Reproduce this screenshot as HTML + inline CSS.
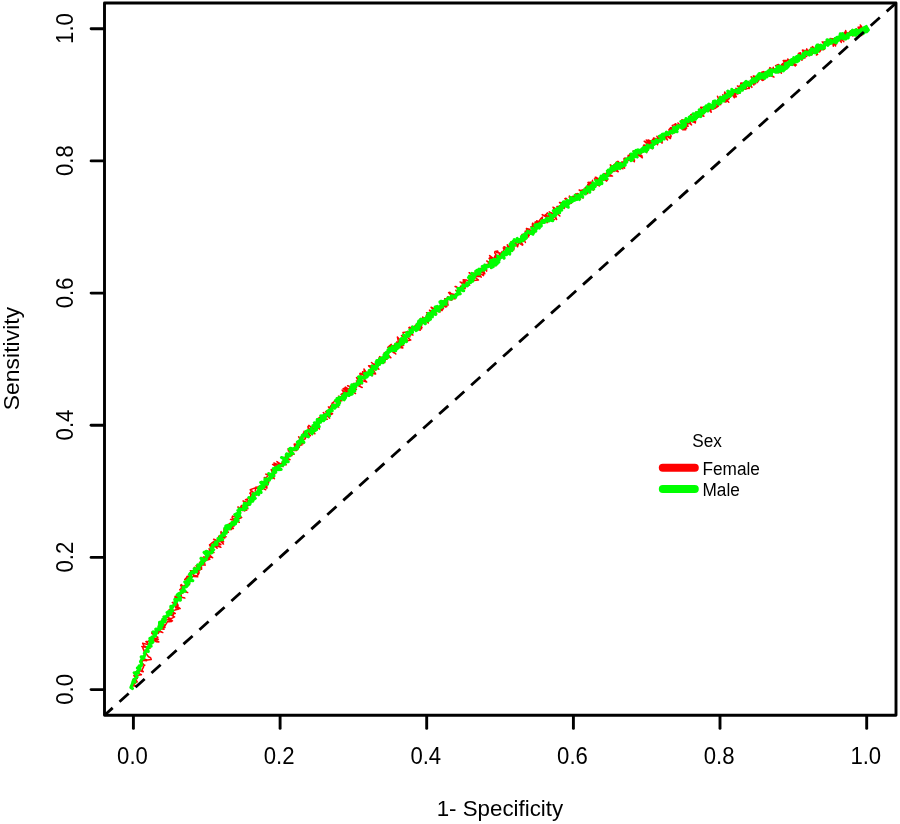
<!DOCTYPE html>
<html lang="en">
<head>
<meta charset="utf-8">
<title>ROC curve by Sex</title>
<style>
html,body{margin:0;padding:0;background:#fff;}
body{width:900px;height:824px;overflow:hidden;}
svg{display:block;}
text{font-family:"Liberation Sans",Arial,sans-serif;fill:#000;}
.ax{font-size:23.2px;}
.lg{font-size:18px;}
</style>
</head>
<body>
<svg width="900" height="824" viewBox="0 0 900 824">
<rect x="0" y="0" width="900" height="824" fill="#ffffff"/>
<path d="M131.0,685.7 L136.4,685.9 L132.6,684.5 L137.2,681.8 L135.0,678.7 L133.0,679.7 L135.0,678.6 L137.3,678.4 L133.8,675.7 L141.4,674.7 L135.8,671.8 L141.4,670.8 L141.9,671.5 L143.3,671.7 L141.9,670.1 L143.6,666.9 L143.2,666.3 L144.8,665.2 L143.6,664.6 L141.4,662.2 L143.1,660.3 L146.6,660.7 L142.5,658.7 L147.6,659.9 L151.3,659.5 L150.6,657.7 L148.5,656.8 L145.8,653.1 L145.1,650.3 L145.9,650.0 L144.4,651.9 L142.3,646.6 L141.8,646.5 L150.1,648.2 L144.0,646.0 L142.7,643.3 L149.7,644.9 L149.9,644.6 L148.3,643.5 L145.9,641.6 L150.9,641.6 L150.7,638.8 L156.0,641.7 L158.9,642.0 L152.6,638.0 L158.4,639.2 L155.4,639.4 L157.9,637.3 L151.8,633.3 L152.0,632.0 L154.3,634.6 L155.1,631.2 L158.3,633.4 L159.0,631.9 L156.1,630.4 L162.8,632.6 L157.1,629.1 L159.4,628.8 L164.1,629.2 L158.2,626.0 L165.0,627.4 L163.0,625.7 L159.3,624.7 L162.7,624.3 L160.5,621.3 L165.1,625.7 L167.5,621.6 L169.1,621.7 L171.5,621.6 L172.1,620.8 L164.6,619.0 L172.5,620.8 L167.5,617.4 L171.2,618.7 L174.6,616.9 L171.6,615.4 L168.4,613.9 L173.3,614.8 L172.1,613.9 L175.3,613.5 L169.0,609.8 L174.0,610.2 L175.0,610.0 L178.8,609.0 L175.1,605.9 L175.8,608.0 L180.2,608.6 L172.3,602.4 L178.1,605.3 L176.2,601.6 L175.0,599.4 L176.8,600.8 L175.0,599.4 L175.1,596.3 L180.9,600.0 L177.9,598.8 L176.7,595.9 L184.9,598.1 L181.5,597.2 L181.2,595.3 L180.0,594.6 L183.0,592.9 L184.0,590.5 L187.7,592.6 L179.7,589.8 L181.4,588.2 L181.3,586.4 L180.6,585.4 L181.3,584.5 L184.4,587.9 L185.1,585.0 L184.1,585.7 L189.5,584.6 L185.1,581.7 L189.7,580.8 L184.7,579.6 L186.4,577.8 L190.3,581.0 L190.9,579.1 L187.1,577.9 L186.7,577.1 L187.1,576.3 L191.1,576.6 L193.9,576.4 L197.7,576.8 L197.3,576.1 L193.7,575.3 L190.4,570.7 L197.0,570.8 L199.2,572.7 L198.1,574.9 L194.3,567.3 L198.8,571.4 L200.1,569.8 L196.0,565.8 L201.6,569.3 L201.5,566.6 L199.6,568.0 L198.9,565.3 L203.4,564.7 L205.3,565.1 L203.7,564.8 L199.5,562.4 L202.2,561.0 L204.8,563.2 L202.6,560.2 L203.4,560.0 L201.1,557.4 L206.3,560.4 L209.8,559.4 L203.4,556.9 L210.0,557.7 L207.8,557.3 L209.6,556.4 L212.7,557.7 L209.6,555.1 L210.1,552.9 L214.0,552.5 L210.5,552.2 L209.7,550.3 L209.1,548.8 L212.7,550.9 L209.5,544.8 L211.0,546.1 L213.0,546.5 L216.2,546.9 L210.0,544.5 L212.6,542.4 L216.2,546.1 L217.1,548.3 L213.7,545.0 L220.9,547.3 L213.6,541.5 L220.9,544.7 L213.6,539.2 L222.4,542.4 L223.5,544.1 L218.5,539.1 L223.6,541.8 L222.1,540.4 L218.6,537.0 L218.7,536.3 L224.8,537.9 L222.4,536.6 L226.1,536.7 L221.3,534.8 L221.1,531.6 L220.9,532.8 L228.4,532.2 L224.7,529.1 L223.8,531.3 L224.7,531.1 L223.9,529.1 L227.9,528.4 L225.5,529.3 L231.7,529.5 L229.5,527.1 L225.6,526.1 L233.4,528.5 L230.1,524.5 L234.2,526.0 L230.4,526.4 L229.4,523.5 L234.9,523.8 L235.2,524.3 L231.9,522.2 L235.0,520.4 L230.5,519.4 L238.3,521.5 L239.3,522.3 L232.0,517.9 L232.5,516.1 L237.7,518.0 L236.4,518.4 L237.3,519.2 L241.7,517.6 L239.4,515.8 L239.0,515.3 L238.0,512.1 L239.1,514.1 L239.9,514.1 L238.7,512.3 L239.4,510.1 L242.3,510.5 L244.6,509.9 L237.8,507.0 L244.5,510.9 L246.8,510.1 L240.8,506.9 L241.5,505.4 L242.3,505.7 L246.4,506.9 L247.9,508.7 L245.4,505.4 L248.4,505.6 L243.0,500.9 L244.5,501.5 L247.7,502.6 L247.4,499.0 L245.5,499.8 L252.3,501.2 L250.8,498.4 L250.1,499.2 L250.0,497.3 L248.6,497.9 L254.0,498.8 L250.5,498.3 L250.9,493.9 L254.4,496.1 L249.8,493.3 L251.9,491.1 L256.3,495.1 L251.7,490.8 L251.9,491.9 L250.2,489.8 L255.8,487.6 L255.2,491.1 L256.0,487.0 L256.2,487.8 L259.2,489.6 L255.8,487.6 L258.6,486.6 L259.4,486.8 L265.8,489.8 L259.5,486.3 L260.8,485.9 L264.6,486.7 L266.9,488.2 L266.8,486.3 L266.4,486.5 L265.2,483.9 L261.7,481.5 L268.3,483.5 L268.6,480.8 L268.6,483.1 L267.6,479.0 L268.7,482.5 L264.3,477.5 L265.2,478.0 L266.9,477.0 L268.1,474.9 L273.3,477.4 L274.4,478.7 L265.8,474.1 L274.0,476.7 L274.1,476.5 L274.7,473.5 L272.5,472.3 L273.4,474.6 L272.6,472.0 L275.9,471.7 L272.6,473.1 L271.2,469.8 L275.3,470.7 L274.8,469.8 L277.3,468.3 L275.9,466.7 L279.4,469.5 L272.6,464.5 L280.4,465.7 L277.9,466.6 L273.9,462.9 L283.0,466.6 L279.2,463.9 L276.9,461.6 L282.5,465.1 L281.7,463.0 L286.3,464.8 L282.6,461.3 L285.2,461.4 L285.7,462.5 L285.0,457.6 L286.8,458.1 L286.8,458.0 L285.1,457.4 L290.0,459.7 L285.2,456.8 L286.3,456.5 L286.8,454.3 L286.3,453.7 L286.6,453.5 L291.9,455.7 L290.7,455.7 L289.4,452.8 L289.3,453.8 L294.1,454.3 L288.4,450.9 L288.1,448.7 L290.7,448.9 L292.4,448.5 L293.1,450.5 L296.8,450.6 L294.7,449.6 L294.4,447.3 L295.5,447.1 L294.3,444.8 L296.6,448.7 L299.4,447.3 L294.2,444.1 L301.4,444.8 L299.6,445.8 L296.9,442.0 L299.6,442.3 L301.9,444.9 L300.3,441.2 L301.7,438.0 L303.1,443.7 L302.9,443.6 L298.6,436.8 L303.0,441.2 L302.1,439.3 L304.8,439.3 L305.8,437.4 L304.1,436.5 L304.9,436.9 L305.9,436.5 L303.2,433.2 L304.5,432.1 L304.0,431.3 L310.4,435.8 L308.2,433.0 L312.0,431.7 L312.4,434.7 L309.5,429.6 L308.1,428.6 L311.4,429.3 L314.9,433.8 L312.2,432.0 L307.8,427.0 L308.9,425.3 L309.0,425.6 L315.8,429.8 L314.7,426.8 L316.5,428.5 L317.3,426.8 L319.5,429.0 L317.4,425.2 L315.9,422.4 L317.7,423.5 L318.9,425.4 L319.3,425.3 L317.0,420.4 L316.7,420.4 L319.0,423.1 L317.4,419.3 L319.7,417.2 L321.9,418.0 L322.0,418.8 L322.0,415.8 L322.2,419.2 L323.4,419.1 L327.4,419.2 L325.6,419.2 L323.7,415.1 L325.2,414.7 L323.3,412.6 L329.7,418.1 L327.2,414.4 L327.0,410.7 L325.6,411.8 L331.1,414.6 L332.4,413.8 L332.6,413.8 L329.7,413.4 L329.1,410.2 L331.7,412.0 L328.4,406.9 L331.3,409.7 L329.7,407.8 L330.9,405.6 L333.7,405.6 L335.2,407.5 L331.6,404.5 L331.9,405.0 L336.5,404.0 L338.7,407.1 L331.9,403.3 L335.7,400.7 L336.3,401.6 L337.9,404.7 L336.0,400.8 L339.2,402.6 L339.5,402.4 L340.2,401.1 L341.8,400.8 L340.5,400.7 L336.9,398.0 L343.0,398.8 L340.6,397.5 L338.5,396.2 L344.5,398.1 L342.1,395.3 L342.4,394.1 L343.6,392.8 L341.0,394.4 L347.1,395.2 L346.3,395.8 L344.7,393.9 L342.1,390.1 L347.1,393.8 L350.5,395.0 L343.2,388.6 L346.5,390.2 L344.4,388.0 L348.6,391.4 L345.4,387.1 L355.5,393.5 L349.5,388.4 L352.4,390.9 L349.9,387.3 L351.6,387.2 L347.6,385.7 L356.4,389.2 L351.6,385.0 L353.5,385.2 L353.0,384.4 L355.1,383.4 L353.2,384.3 L353.3,383.4 L362.2,387.5 L360.7,386.9 L356.4,380.9 L362.2,383.8 L356.5,377.5 L359.0,382.5 L360.3,384.1 L358.3,379.1 L360.2,377.3 L360.9,382.2 L360.6,380.1 L366.7,382.0 L361.1,376.0 L359.8,373.9 L360.2,373.2 L365.0,374.3 L360.8,373.5 L366.9,377.1 L362.6,371.7 L363.0,374.7 L364.5,373.3 L364.0,368.9 L366.7,373.1 L372.5,375.7 L368.8,370.2 L370.8,370.1 L370.9,370.6 L372.0,372.9 L370.6,373.2 L375.7,374.0 L372.8,368.9 L370.4,367.3 L368.6,365.8 L372.6,365.9 L375.6,370.0 L373.0,366.7 L373.1,366.0 L374.1,363.9 L378.9,369.2 L371.5,362.5 L375.1,365.8 L377.3,364.7 L378.1,364.4 L376.5,365.1 L376.7,364.0 L380.3,361.7 L378.3,361.1 L378.7,362.7 L379.0,357.9 L379.6,359.6 L383.7,362.1 L384.8,362.5 L381.1,361.0 L379.6,356.6 L384.4,358.9 L386.9,359.3 L382.3,357.7 L386.5,354.8 L386.3,354.5 L386.7,356.6 L384.0,353.1 L386.9,353.4 L390.9,357.8 L386.7,354.9 L388.0,354.0 L388.8,351.3 L387.6,350.4 L389.0,350.4 L390.2,349.4 L393.4,352.5 L394.8,353.2 L394.1,352.2 L395.8,354.0 L387.8,347.4 L391.3,344.4 L391.8,349.3 L389.8,346.8 L396.7,349.3 L394.5,345.4 L395.0,346.1 L393.5,345.6 L396.5,343.7 L396.6,345.6 L396.6,341.9 L402.8,347.9 L397.8,347.1 L399.8,345.5 L403.7,345.6 L399.7,342.8 L401.7,345.5 L401.4,343.0 L398.5,342.1 L397.4,337.1 L400.6,340.5 L404.7,341.0 L405.9,340.1 L404.1,340.8 L406.8,339.7 L403.0,336.4 L401.5,335.6 L407.7,340.7 L410.8,340.0 L403.9,334.9 L403.0,332.5 L402.9,332.5 L407.3,331.9 L409.9,336.9 L409.7,332.5 L407.8,333.4 L413.0,335.0 L407.8,331.3 L410.2,332.8 L411.1,332.6 L411.7,329.9 L409.7,327.2 L411.5,328.9 L408.9,327.5 L410.0,329.3 L414.7,326.9 L415.1,325.4 L420.2,330.3 L417.3,327.9 L421.6,328.8 L419.8,329.1 L416.4,324.4 L417.7,324.3 L422.0,327.4 L417.0,325.9 L421.5,325.4 L421.4,325.9 L421.3,323.0 L421.7,325.0 L422.6,320.7 L421.2,322.1 L420.4,318.5 L420.1,319.1 L424.8,319.6 L424.1,322.1 L426.0,320.8 L428.3,322.9 L423.1,319.4 L422.7,317.0 L425.0,320.5 L424.3,318.0 L427.6,319.4 L425.7,317.1 L429.3,314.9 L427.7,318.2 L426.6,314.6 L429.3,316.3 L431.0,315.2 L426.6,312.7 L432.3,315.8 L432.9,315.7 L429.5,310.2 L432.4,312.1 L435.2,313.0 L436.4,314.3 L435.1,310.9 L433.0,311.9 L436.6,313.4 L431.1,307.2 L440.1,312.0 L436.9,308.4 L435.8,308.3 L436.4,307.0 L436.5,308.0 L436.8,307.3 L442.0,310.6 L440.8,310.0 L443.6,307.9 L442.5,309.8 L442.2,304.7 L445.8,307.1 L446.6,306.5 L440.4,302.1 L446.8,306.5 L443.9,304.8 L442.9,300.7 L443.3,304.2 L448.1,305.1 L447.8,303.9 L444.8,298.7 L446.8,304.0 L445.2,298.7 L447.7,302.4 L447.4,297.0 L451.2,300.3 L448.0,296.8 L451.5,299.2 L452.8,299.3 L452.5,296.7 L452.2,299.7 L451.8,296.3 L448.6,292.6 L450.3,293.4 L449.8,292.3 L451.2,293.8 L455.0,299.0 L452.3,293.9 L457.1,295.3 L457.3,295.5 L456.7,294.9 L459.2,292.8 L455.8,290.3 L460.0,294.4 L458.4,290.9 L460.2,293.9 L458.2,287.7 L455.1,286.6 L455.7,286.5 L462.6,290.8 L460.5,286.4 L459.9,288.0 L462.2,287.8 L463.8,287.3 L460.8,286.0 L465.1,288.6 L465.2,283.8 L463.4,283.1 L463.3,284.3 L460.1,282.0 L465.1,283.9 L463.1,281.1 L469.7,285.2 L463.2,279.7 L466.3,279.9 L467.3,280.4 L470.9,281.6 L468.8,280.6 L468.6,280.1 L469.0,279.9 L471.5,280.7 L471.1,278.1 L469.3,276.9 L473.1,277.0 L472.5,275.2 L472.0,278.0 L473.5,279.0 L473.5,280.4 L478.5,280.0 L469.1,272.7 L474.9,277.5 L473.8,273.0 L480.2,276.6 L476.4,276.4 L477.3,273.8 L481.3,277.1 L478.7,273.1 L478.2,272.7 L478.0,272.1 L483.5,275.7 L483.5,273.3 L480.9,271.7 L483.2,269.7 L484.9,273.7 L480.6,268.3 L484.3,270.6 L483.3,267.1 L483.8,268.9 L484.3,265.4 L486.6,269.3 L486.6,271.2 L484.6,267.6 L484.7,264.6 L485.7,268.7 L486.2,264.4 L489.1,265.8 L489.1,265.6 L488.3,263.3 L490.9,268.4 L490.7,263.8 L491.6,264.7 L486.7,261.0 L495.3,265.8 L490.1,261.2 L491.8,262.3 L489.1,258.3 L493.1,258.5 L490.2,257.4 L493.3,259.2 L489.6,255.6 L492.6,257.9 L493.9,258.6 L495.3,255.2 L496.4,259.6 L495.8,254.0 L496.8,257.0 L498.5,259.5 L497.3,256.6 L494.7,252.8 L494.9,251.5 L497.7,251.1 L496.6,252.4 L502.6,253.4 L501.1,257.4 L498.1,252.0 L503.2,256.0 L501.9,251.6 L503.7,254.5 L503.5,250.3 L504.5,249.2 L503.7,248.7 L505.2,247.3 L503.2,248.0 L508.6,252.6 L506.0,251.4 L504.0,246.7 L510.0,249.3 L508.2,249.0 L507.3,244.7 L510.5,251.6 L507.5,245.4 L508.1,246.4 L509.8,245.8 L509.0,246.0 L513.7,249.9 L514.0,247.1 L513.3,244.1 L516.1,245.8 L514.7,244.6 L511.0,241.8 L517.2,245.4 L514.8,241.7 L517.6,246.8 L518.6,242.5 L515.0,240.2 L522.4,245.2 L518.6,241.6 L520.2,243.9 L522.2,244.2 L522.2,244.5 L522.8,244.7 L519.4,239.8 L521.7,239.2 L524.0,240.8 L522.2,235.9 L525.4,242.5 L523.5,238.5 L524.8,239.8 L527.1,237.5 L524.7,237.5 L523.8,234.7 L521.9,234.4 L526.2,234.2 L525.7,231.8 L529.3,235.3 L525.1,231.2 L528.7,236.9 L526.4,230.0 L527.5,232.2 L528.6,234.5 L527.7,232.8 L531.4,231.3 L532.8,233.0 L529.5,229.3 L526.4,228.5 L534.8,232.6 L534.0,230.8 L535.0,230.8 L530.9,226.7 L532.5,228.2 L532.4,223.9 L532.8,223.1 L535.9,229.5 L533.9,226.5 L535.3,223.4 L538.6,227.5 L534.7,224.0 L537.4,225.8 L536.2,221.8 L534.9,222.3 L539.7,222.8 L538.3,221.7 L536.7,220.7 L539.8,224.2 L543.2,223.1 L539.0,221.3 L541.0,218.4 L544.3,221.5 L540.3,219.5 L542.5,217.0 L541.8,221.2 L547.5,221.5 L547.0,222.7 L547.6,222.0 L545.5,214.8 L547.7,218.0 L542.2,214.6 L542.4,214.9 L549.4,216.6 L545.5,215.3 L547.3,212.9 L552.1,218.4 L554.5,219.6 L553.0,219.5 L551.7,213.8 L553.7,214.8 L549.2,211.9 L555.0,214.8 L556.6,219.5 L551.5,212.8 L556.0,215.3 L554.7,214.5 L557.6,213.9 L559.9,216.0 L553.6,210.7 L555.1,209.5 L556.0,212.4 L553.0,207.2 L554.5,207.9 L555.1,209.2 L559.6,208.9 L560.7,206.5 L556.9,206.4 L558.9,211.1 L557.8,207.1 L560.5,205.9 L562.1,207.0 L563.9,207.2 L562.2,206.0 L564.2,208.5 L559.5,202.4 L565.4,203.3 L564.8,205.6 L564.6,207.8 L564.5,201.5 L567.5,204.9 L563.1,201.9 L567.7,201.4 L566.2,204.4 L571.3,203.3 L566.0,198.2 L564.9,198.7 L570.9,203.4 L570.6,201.6 L573.1,201.2 L570.1,197.6 L572.9,200.0 L571.1,197.7 L569.4,196.1 L569.3,197.4 L574.0,199.8 L574.2,198.5 L574.8,197.9 L572.3,196.6 L575.7,196.1 L580.5,199.2 L579.7,198.9 L576.7,199.2 L575.9,193.7 L580.5,196.4 L582.0,196.9 L577.8,193.5 L579.8,195.1 L583.0,197.9 L580.8,196.3 L581.0,195.5 L581.8,190.9 L579.1,189.9 L584.7,194.5 L584.8,193.8 L580.1,190.6 L584.9,189.1 L582.4,190.9 L587.7,193.6 L587.9,189.8 L586.3,191.7 L586.5,189.3 L587.9,190.7 L585.2,187.6 L590.0,192.1 L588.2,187.2 L587.7,184.6 L593.5,190.1 L587.8,185.6 L589.7,186.6 L589.0,182.3 L587.9,182.4 L590.0,185.0 L588.4,183.8 L592.7,184.2 L590.2,182.2 L592.3,182.6 L592.5,180.2 L592.5,184.6 L594.0,183.9 L599.3,185.9 L599.4,183.8 L594.5,178.9 L597.0,181.5 L597.8,183.9 L600.4,182.5 L595.2,177.2 L596.1,177.3 L598.9,179.2 L599.1,178.5 L600.9,177.9 L602.4,177.8 L601.9,177.3 L602.0,181.5 L601.6,176.3 L607.8,179.3 L606.6,181.1 L605.6,176.0 L605.8,180.6 L604.1,173.4 L604.3,175.2 L606.4,173.2 L608.6,174.4 L606.9,174.5 L609.8,176.0 L612.5,176.1 L606.5,172.7 L609.9,172.4 L609.3,175.6 L607.0,170.8 L610.6,172.8 L612.9,171.3 L611.4,171.8 L611.6,168.7 L611.6,169.8 L610.5,167.2 L613.9,171.5 L615.3,170.5 L618.2,171.7 L615.7,167.9 L610.3,164.9 L615.3,170.8 L616.4,165.4 L613.6,165.2 L616.7,162.7 L615.9,164.6 L617.6,167.1 L622.9,168.8 L620.1,166.3 L619.2,163.1 L624.7,168.1 L616.4,162.2 L617.9,161.3 L617.9,161.2 L622.4,166.3 L620.3,162.7 L623.2,164.6 L622.9,161.9 L621.6,161.9 L624.6,163.7 L624.0,158.6 L624.7,158.5 L625.3,163.3 L625.1,160.8 L624.9,157.9 L629.3,160.2 L628.7,160.1 L628.9,160.4 L626.5,158.7 L627.7,159.4 L628.2,155.3 L629.8,157.5 L634.3,161.8 L634.5,160.1 L629.7,154.0 L629.7,155.2 L634.3,155.4 L631.5,156.0 L632.6,156.3 L634.0,154.0 L635.5,156.0 L634.7,153.1 L639.4,155.9 L633.0,151.1 L642.1,156.8 L635.8,152.5 L642.4,157.8 L641.0,155.0 L642.1,156.1 L638.0,153.5 L641.9,152.6 L639.7,154.5 L638.9,150.9 L640.1,152.3 L642.1,151.8 L643.3,148.8 L646.7,152.6 L645.3,149.8 L642.6,150.9 L645.4,150.2 L647.5,151.1 L645.8,145.5 L643.5,145.4 L644.2,144.9 L648.2,149.9 L648.2,145.7 L650.2,147.8 L648.4,143.1 L652.3,148.8 L644.2,141.2 L650.8,145.0 L646.2,140.0 L653.1,146.6 L649.4,141.3 L649.2,144.1 L651.5,142.7 L648.0,139.9 L651.4,141.3 L653.4,138.6 L657.6,144.7 L654.8,140.8 L653.8,140.2 L652.3,141.4 L654.8,141.0 L653.6,137.9 L657.2,139.3 L659.0,141.6 L659.4,139.8 L662.0,143.1 L661.1,141.0 L662.4,142.0 L656.8,136.2 L658.7,139.6 L659.0,136.1 L661.3,136.6 L659.5,136.5 L664.0,138.9 L664.8,136.2 L665.1,136.4 L663.8,136.3 L667.5,139.9 L664.1,134.2 L669.3,137.8 L670.4,138.5 L667.4,135.6 L670.7,137.9 L670.2,137.6 L671.2,136.0 L670.9,135.6 L669.5,131.5 L668.9,129.8 L670.6,127.8 L671.4,130.6 L670.0,132.5 L669.5,130.8 L674.3,132.9 L670.6,129.0 L675.4,130.7 L670.1,129.5 L670.4,128.0 L673.4,131.9 L671.0,127.6 L672.5,129.0 L671.5,127.5 L674.3,129.6 L672.3,125.4 L674.6,124.6 L678.1,129.1 L677.8,126.2 L679.7,127.8 L675.2,123.7 L684.3,129.6 L677.9,123.0 L684.9,129.8 L682.6,129.8 L686.7,128.1 L681.1,123.9 L682.4,125.7 L685.8,129.7 L683.4,125.5 L688.1,126.3 L685.3,121.0 L681.9,119.8 L685.1,123.4 L688.5,123.8 L689.4,122.9 L688.4,120.2 L689.3,120.6 L691.2,124.5 L687.2,121.7 L691.6,124.9 L687.2,119.6 L692.2,121.1 L693.3,121.1 L692.8,121.9 L695.3,122.9 L695.5,121.5 L693.1,120.5 L690.8,114.8 L692.6,114.3 L692.3,114.3 L694.3,114.9 L698.7,117.1 L698.3,116.9 L696.6,118.1 L696.7,115.2 L697.3,116.1 L696.1,111.8 L701.8,116.0 L700.2,116.3 L701.4,114.5 L703.9,116.3 L699.9,111.9 L701.3,112.2 L700.0,112.5 L699.6,111.3 L701.0,112.2 L700.7,112.0 L701.4,111.5 L704.1,108.6 L703.7,113.7 L700.6,107.3 L704.8,107.5 L705.6,110.2 L706.8,111.4 L704.6,107.7 L706.5,110.8 L705.2,109.2 L706.4,110.8 L705.8,106.4 L711.2,112.2 L710.4,109.0 L709.2,103.8 L713.6,108.6 L710.7,105.7 L711.7,109.0 L715.4,107.1 L713.1,109.1 L715.3,108.3 L712.5,105.7 L714.9,106.0 L714.2,101.1 L713.5,107.6 L718.3,105.1 L715.8,107.9 L718.4,106.1 L716.5,104.3 L718.6,104.5 L717.3,103.3 L719.5,101.9 L720.7,104.7 L719.4,100.6 L717.8,97.1 L717.5,96.2 L718.4,98.2 L719.9,98.9 L723.0,100.9 L720.2,96.4 L722.4,100.7 L725.6,102.0 L727.1,101.3 L723.7,100.1 L726.4,98.8 L728.8,102.3 L722.7,94.8 L725.5,101.0 L729.3,98.5 L725.4,96.7 L725.2,96.3 L724.6,93.8 L724.7,91.9 L725.9,94.5 L728.0,93.1 L730.4,95.4 L731.1,93.3 L734.4,97.7 L731.6,91.0 L735.7,97.0 L732.2,94.6 L733.5,91.3 L736.4,96.8 L732.3,94.9 L731.4,91.0 L735.4,96.4 L734.0,92.0 L735.4,93.2 L736.7,93.8 L736.9,93.7 L737.8,94.1 L738.6,92.9 L740.4,92.8 L735.9,88.3 L737.2,90.3 L741.1,89.0 L737.4,85.9 L742.0,88.2 L743.1,89.9 L739.7,87.9 L739.2,86.1 L743.8,86.7 L741.7,88.1 L741.6,88.4 L746.0,89.2 L740.6,84.8 L740.8,83.1 L746.0,83.2 L746.2,88.7 L749.3,88.1 L746.2,82.8 L746.4,86.4 L749.7,84.1 L749.1,88.6 L750.3,83.6 L751.9,87.4 L749.4,84.2 L751.1,83.3 L749.9,86.2 L750.2,80.9 L755.7,83.7 L750.9,83.3 L751.5,79.8 L754.3,81.9 L753.8,85.1 L752.3,80.0 L751.2,76.7 L757.5,82.5 L753.4,76.0 L754.4,76.3 L758.0,77.4 L758.6,80.7 L757.1,82.1 L758.0,75.2 L757.8,75.8 L762.3,80.4 L760.1,77.3 L763.9,79.6 L758.8,75.3 L759.6,76.2 L763.3,80.3 L759.8,74.1 L761.8,74.4 L764.9,76.2 L764.0,75.6 L761.4,72.5 L765.0,74.0 L762.1,71.9 L764.1,74.9 L766.1,76.9 L767.0,74.4 L763.5,71.6 L768.6,73.6 L769.3,76.2 L769.3,70.0 L768.2,73.2 L774.0,77.1 L770.6,75.6 L771.9,71.3 L770.6,71.0 L771.1,68.3 L769.9,67.6 L769.2,69.7 L772.6,70.6 L773.2,70.1 L773.3,67.2 L772.4,70.2 L774.7,69.0 L778.7,72.4 L779.4,72.6 L778.7,72.7 L777.5,68.5 L781.4,73.2 L781.5,69.6 L775.6,65.6 L778.4,64.4 L780.7,68.8 L781.4,70.4 L779.8,69.4 L782.7,66.5 L782.2,68.3 L782.9,68.7 L781.2,67.5 L782.4,63.8 L782.2,65.2 L783.6,63.8 L783.6,65.7 L781.6,64.6 L785.1,61.8 L786.5,66.0 L784.1,64.4 L787.5,67.0 L783.2,60.6 L788.0,60.3 L786.3,60.9 L788.4,66.9 L791.2,62.3 L791.4,64.3 L787.7,59.0 L792.7,65.3 L788.4,59.6 L795.3,65.9 L792.3,61.9 L796.4,65.1 L791.5,63.0 L792.8,62.5 L793.0,58.8 L797.0,60.6 L793.9,62.3 L798.5,60.7 L794.1,61.3 L796.5,61.9 L797.8,60.6 L797.9,60.1 L798.3,57.2 L796.3,57.8 L800.4,58.2 L802.0,60.2 L801.6,57.9 L800.5,52.7 L798.4,53.5 L801.1,55.5 L800.4,54.5 L804.9,58.0 L802.0,58.1 L806.7,56.4 L805.6,55.5 L804.8,54.1 L805.1,55.9 L802.4,50.1 L806.1,50.9 L806.7,48.9 L805.2,53.6 L809.9,55.5 L806.7,48.9 L806.4,50.2 L806.9,50.6 L807.6,54.1 L808.0,52.7 L809.4,49.5 L810.6,51.4 L811.5,50.4 L812.6,50.9 L811.6,53.4 L812.3,53.6 L811.1,50.7 L814.3,51.2 L811.0,47.5 L817.6,54.5 L812.4,46.6 L817.4,51.1 L816.5,55.1 L818.0,47.5 L818.5,48.7 L819.0,51.7 L820.2,50.0 L816.7,46.7 L818.8,49.5 L819.7,51.9 L821.1,49.5 L818.9,44.6 L824.4,49.1 L823.3,49.8 L818.1,44.6 L820.6,47.0 L823.4,45.5 L825.2,45.7 L822.2,41.9 L825.1,42.2 L825.4,42.0 L827.3,45.6 L825.7,42.1 L824.5,42.2 L825.0,45.2 L825.8,41.3 L828.3,42.5 L830.5,43.3 L829.1,41.3 L829.9,43.9 L828.3,44.9 L828.8,40.6 L832.2,40.6 L833.3,46.2 L833.5,42.1 L834.0,38.9 L830.1,38.6 L831.5,41.6 L836.6,43.9 L830.7,38.8 L835.6,46.0 L834.7,38.0 L837.5,41.9 L835.3,42.4 L833.9,40.3 L838.5,38.6 L836.6,39.2 L838.9,39.1 L841.3,42.4 L840.5,38.6 L838.4,38.5 L840.2,37.5 L843.8,41.7 L839.6,37.0 L840.4,35.5 L842.5,39.5 L842.8,33.7 L840.8,39.1 L844.8,36.0 L844.9,39.8 L844.4,32.4 L844.1,36.4 L845.7,30.5 L846.1,35.7 L846.2,33.2 L843.9,34.1 L846.8,35.6 L849.7,33.8 L844.7,32.8 L846.9,32.4 L848.3,36.9 L848.6,32.9 L850.2,31.2 L852.2,34.2 L852.8,36.0 L852.7,31.1 L853.0,32.9 L855.7,35.2 L852.4,33.6 L855.7,33.6 L854.5,30.7 L856.2,29.9 L853.0,30.9 L854.4,33.6 L853.6,30.3 L855.6,34.9 L856.4,33.5 L858.3,31.8 L859.2,33.9 L856.4,28.8 L861.8,35.5 L857.5,30.0 L861.4,27.4 L861.3,34.8 L858.9,30.9 L861.0,33.8 L858.1,27.2 L860.2,27.0 L863.9,29.2 L864.3,32.6 L860.3,25.0 L863.9,29.8 L864.8,29.8 L864.4,26.7 L867.0,27.1 L865.8,30.8 L867.3,28.9" fill="none" stroke="#ff0000" stroke-width="1.5" stroke-linejoin="round" stroke-linecap="round"/>
<path d="M132.4,688.5 L130.9,687.4 L132.4,683.9 L133.0,681.4 L135.1,682.1 L133.9,679.4 L134.4,679.4 L137.1,676.9 L134.2,672.7 L138.5,673.0 L137.3,672.4 L137.5,671.2 L140.0,669.0 L137.4,668.1 L138.6,667.2 L139.2,665.8 L140.6,666.3 L141.4,665.3 L141.8,663.7 L140.5,661.6 L141.6,659.8 L142.1,658.5 L141.9,658.7 L143.9,658.0 L141.2,656.9 L144.1,656.8 L145.0,654.5 L144.3,653.3 L144.8,652.5 L145.6,651.0 L148.3,651.4 L147.2,648.3 L148.3,648.2 L147.6,647.2 L149.0,646.4 L151.2,646.3 L149.5,644.6 L150.8,645.1 L149.3,644.1 L150.6,643.0 L152.4,642.7 L149.7,640.7 L153.0,642.0 L149.9,638.4 L152.8,639.4 L151.7,637.3 L155.4,636.0 L154.3,634.9 L155.9,634.2 L155.4,634.0 L153.1,631.8 L155.2,633.2 L156.8,632.6 L156.2,630.5 L155.9,629.3 L155.8,629.1 L159.5,629.7 L158.9,627.1 L161.4,628.0 L159.4,625.2 L162.6,625.3 L160.4,623.0 L159.5,623.4 L159.6,622.2 L162.9,622.5 L165.1,621.5 L162.6,620.1 L162.8,619.2 L165.6,619.7 L164.8,617.8 L163.9,616.9 L165.8,616.8 L167.3,615.3 L167.9,615.8 L168.9,614.7 L169.0,615.0 L167.1,612.5 L171.1,613.9 L168.2,611.7 L172.7,610.9 L171.5,609.8 L171.0,609.0 L170.8,606.4 L171.8,607.7 L172.7,607.4 L172.3,606.2 L175.2,604.7 L175.0,602.7 L174.9,602.9 L175.0,600.8 L176.5,601.9 L175.8,600.0 L174.8,599.3 L180.4,600.1 L178.7,599.0 L179.4,598.4 L180.5,597.8 L177.1,595.1 L177.7,594.4 L179.0,593.6 L179.5,593.2 L180.6,593.6 L181.8,590.4 L182.8,592.0 L183.6,590.2 L185.1,591.2 L183.8,589.9 L183.9,589.4 L183.0,587.2 L186.5,586.7 L186.5,584.2 L187.8,585.2 L186.9,584.3 L184.8,581.9 L189.2,582.9 L187.5,580.1 L187.3,580.0 L192.8,580.7 L189.9,579.5 L188.8,578.5 L191.4,577.6 L190.8,576.2 L189.4,574.5 L190.8,574.2 L190.3,573.4 L192.4,572.6 L191.8,571.7 L194.0,572.9 L195.5,571.4 L196.6,571.6 L194.5,569.9 L194.2,568.7 L197.5,568.8 L199.4,569.0 L198.4,567.5 L197.9,567.7 L198.0,565.1 L197.7,564.8 L200.2,565.8 L200.4,563.4 L202.6,563.8 L202.8,561.9 L201.6,561.1 L202.4,562.5 L202.7,560.1 L201.0,558.4 L205.4,559.8 L204.4,561.0 L206.3,559.1 L206.9,557.4 L206.2,556.6 L208.1,555.9 L205.2,553.3 L207.5,556.0 L204.1,552.4 L206.5,552.0 L208.9,553.7 L206.1,551.2 L210.7,552.7 L211.6,553.0 L212.6,551.4 L211.0,547.8 L211.1,548.1 L213.7,549.7 L211.5,549.0 L213.3,546.1 L214.2,545.4 L212.6,545.1 L214.6,544.9 L214.7,544.2 L216.3,544.2 L217.1,544.8 L216.6,541.8 L215.2,542.2 L218.1,541.1 L219.6,540.3 L218.6,540.7 L218.0,538.5 L219.9,540.0 L221.5,539.8 L222.7,539.7 L221.4,537.6 L220.2,536.1 L222.4,535.2 L222.3,535.0 L223.5,534.7 L224.4,535.7 L223.1,533.2 L226.2,533.3 L224.8,531.1 L226.4,532.1 L226.8,530.7 L224.8,528.2 L225.2,529.3 L227.1,529.3 L227.4,528.4 L229.9,528.8 L225.8,526.0 L228.3,525.1 L229.6,525.9 L231.2,526.4 L231.2,524.5 L234.4,524.4 L231.8,522.6 L235.6,523.8 L235.2,523.4 L234.1,522.1 L234.7,522.0 L235.0,519.2 L236.8,521.3 L237.5,521.0 L238.1,520.2 L237.5,518.5 L237.7,517.7 L234.8,514.6 L237.3,513.4 L239.3,514.6 L239.9,516.2 L238.2,513.4 L240.0,512.7 L240.0,512.9 L237.9,510.5 L239.2,511.5 L239.8,509.5 L239.2,508.8 L241.7,509.4 L244.9,509.5 L245.1,509.3 L243.2,508.9 L244.5,509.7 L244.1,507.4 L243.6,505.6 L246.8,507.5 L244.4,504.7 L244.3,503.2 L249.1,504.2 L249.8,504.5 L250.3,502.6 L248.9,501.3 L249.4,502.6 L250.8,501.4 L252.8,501.1 L251.9,499.8 L248.8,497.6 L251.8,499.0 L253.2,499.8 L255.3,498.3 L252.6,497.0 L252.7,495.9 L254.3,496.3 L253.4,494.2 L253.2,493.7 L256.9,493.6 L258.7,494.6 L256.1,492.8 L257.2,491.8 L258.7,492.2 L258.0,491.1 L258.3,490.9 L261.1,492.4 L258.4,488.2 L261.8,488.7 L259.3,487.6 L261.9,488.3 L260.0,486.6 L263.5,487.4 L264.1,486.4 L263.8,486.6 L260.7,482.4 L261.7,482.2 L267.5,484.3 L266.5,482.6 L266.4,483.3 L265.6,481.5 L264.9,480.1 L269.5,480.1 L264.9,479.1 L268.0,479.0 L268.2,479.5 L270.0,477.9 L271.5,477.9 L270.4,476.7 L269.7,474.9 L270.7,477.1 L268.7,473.6 L272.8,475.5 L273.9,476.0 L273.0,474.8 L272.9,471.9 L273.5,472.1 L275.7,472.4 L273.3,468.6 L275.7,472.3 L274.6,469.5 L274.4,470.0 L275.5,467.6 L277.9,468.5 L277.0,469.6 L281.2,469.5 L279.1,467.4 L278.2,466.0 L279.3,466.2 L279.2,465.8 L282.8,465.3 L282.7,464.5 L283.1,463.5 L283.7,464.2 L283.5,462.8 L284.9,464.0 L283.0,461.7 L288.2,461.6 L285.5,460.5 L287.5,461.1 L281.5,457.5 L286.2,459.0 L286.6,459.5 L288.1,456.1 L286.7,455.8 L286.2,454.9 L286.7,453.8 L289.7,455.8 L287.5,454.3 L290.2,453.8 L291.5,453.9 L293.1,453.5 L291.8,452.7 L289.3,449.0 L290.0,449.6 L291.9,450.6 L290.3,448.2 L293.8,449.2 L294.3,448.4 L296.2,448.7 L294.9,449.4 L296.1,447.6 L296.8,446.0 L297.4,448.9 L298.3,445.1 L297.6,444.5 L298.5,444.5 L300.1,444.1 L298.6,442.3 L297.3,442.0 L300.1,440.4 L301.9,441.8 L303.9,442.3 L303.2,441.3 L302.6,440.7 L301.3,438.3 L302.7,439.9 L300.7,437.8 L303.4,436.2 L303.1,436.2 L302.3,435.4 L303.1,434.9 L308.5,436.8 L307.2,434.7 L306.1,433.0 L306.1,434.4 L305.3,433.9 L305.6,431.6 L308.4,430.3 L312.0,433.7 L309.8,431.5 L312.9,432.7 L311.3,428.2 L312.0,429.4 L312.3,431.7 L313.3,429.8 L314.8,430.8 L316.4,429.8 L315.4,428.5 L315.3,427.5 L316.8,428.5 L313.0,425.5 L318.0,426.2 L319.2,426.5 L314.4,422.8 L316.5,423.0 L317.1,423.3 L318.4,424.0 L319.7,421.7 L320.6,422.2 L317.3,419.5 L317.2,420.1 L319.8,419.4 L319.6,419.4 L323.6,420.7 L321.5,418.2 L325.2,419.1 L320.8,415.7 L324.1,416.9 L325.3,417.8 L325.6,416.0 L323.4,415.4 L326.7,414.2 L327.6,414.6 L329.2,414.9 L329.5,416.1 L328.7,412.7 L327.8,413.4 L328.4,411.1 L327.3,411.3 L329.8,409.9 L330.3,411.7 L331.1,410.3 L332.2,410.8 L330.3,410.3 L332.2,408.2 L331.9,409.4 L332.3,406.0 L334.7,408.2 L335.5,407.3 L332.7,405.0 L334.3,405.4 L335.9,405.5 L337.5,406.0 L338.2,404.6 L339.0,404.6 L337.5,404.3 L338.3,402.8 L335.4,400.5 L339.7,402.8 L337.0,398.6 L337.6,398.8 L338.3,398.9 L339.1,397.4 L340.3,398.3 L344.3,399.8 L342.2,397.1 L342.3,398.3 L344.8,398.9 L342.7,395.6 L345.4,397.6 L345.6,396.8 L345.5,397.9 L344.5,393.3 L349.0,395.5 L348.2,395.1 L347.4,395.1 L347.6,393.5 L352.2,394.0 L351.2,394.3 L349.7,390.3 L349.0,390.5 L350.9,389.8 L351.5,392.5 L350.7,388.8 L353.9,391.6 L350.9,386.8 L354.9,390.8 L353.1,387.2 L352.0,385.9 L351.8,384.8 L355.8,386.9 L355.5,385.3 L355.3,385.6 L354.3,384.2 L358.3,384.6 L357.0,383.3 L357.3,384.5 L358.0,381.9 L359.9,382.6 L358.2,380.6 L361.9,382.9 L359.5,378.5 L361.5,380.7 L360.9,378.8 L360.2,378.9 L361.0,379.1 L358.6,376.9 L360.5,376.8 L360.7,376.6 L365.1,378.2 L364.3,377.1 L366.4,376.5 L367.2,376.8 L366.7,374.9 L364.4,373.5 L368.4,375.2 L366.3,373.0 L369.1,372.5 L371.7,374.9 L371.5,374.3 L369.2,370.6 L371.0,372.5 L371.6,373.0 L371.6,370.1 L371.5,370.8 L373.0,371.9 L370.7,369.7 L372.1,368.4 L374.7,368.4 L376.1,369.1 L372.0,365.9 L373.4,366.4 L376.6,366.5 L376.8,368.2 L376.2,366.6 L377.5,364.5 L377.5,366.2 L376.1,362.1 L377.7,363.3 L379.7,364.3 L376.7,361.3 L376.8,360.5 L380.3,360.2 L379.7,362.0 L383.2,362.6 L379.9,358.4 L382.8,360.3 L381.3,360.0 L384.5,360.6 L382.3,357.8 L384.3,358.7 L384.3,357.5 L384.0,354.8 L385.2,357.1 L386.6,357.3 L387.0,358.0 L385.7,353.9 L385.5,353.0 L388.2,357.3 L386.5,352.2 L388.2,353.3 L388.0,349.9 L389.8,351.4 L389.0,350.5 L389.0,350.7 L391.7,350.6 L391.1,348.7 L389.3,348.2 L391.4,350.1 L395.7,350.8 L395.2,349.8 L394.5,348.2 L392.1,346.4 L397.5,348.3 L397.2,348.6 L395.5,346.8 L395.9,346.0 L396.4,345.0 L399.2,347.1 L395.6,344.0 L399.5,344.2 L399.7,343.3 L400.5,344.5 L400.1,341.5 L402.1,344.2 L403.6,343.2 L400.5,339.8 L401.3,340.6 L402.8,343.2 L403.2,341.1 L401.5,338.6 L406.5,341.6 L405.5,338.0 L404.0,337.8 L404.6,335.6 L403.4,335.1 L405.9,336.3 L406.5,336.4 L408.4,336.1 L406.8,333.7 L408.5,335.6 L406.7,332.6 L409.0,334.7 L409.5,333.2 L409.9,334.5 L408.9,332.3 L412.5,332.5 L412.2,329.9 L409.8,329.8 L412.1,329.7 L411.2,329.9 L413.4,328.9 L415.1,328.8 L417.0,329.7 L412.4,326.8 L416.2,330.6 L418.3,329.1 L416.2,326.6 L419.3,327.7 L416.8,325.0 L417.6,326.0 L417.1,324.2 L417.9,324.2 L419.6,325.9 L420.9,324.1 L418.2,323.4 L418.8,321.0 L419.8,320.6 L420.9,324.6 L421.1,320.0 L422.6,321.5 L425.3,323.7 L420.9,319.2 L423.7,319.2 L422.8,319.3 L425.6,318.6 L426.2,320.6 L427.8,320.9 L430.4,319.3 L426.9,316.0 L429.1,319.0 L429.6,317.6 L429.6,315.1 L430.8,317.5 L428.7,316.0 L432.4,316.8 L428.1,313.4 L432.3,314.8 L431.0,312.9 L432.3,314.2 L433.5,313.5 L435.8,314.5 L432.6,310.6 L434.1,311.8 L433.0,310.4 L437.0,310.8 L435.4,307.9 L438.2,310.8 L438.8,311.2 L439.3,310.8 L435.2,307.1 L437.1,306.5 L437.2,306.4 L440.1,308.2 L440.2,307.7 L442.4,307.1 L440.3,306.4 L441.2,304.3 L443.5,304.9 L440.0,301.8 L440.4,302.3 L440.0,302.4 L446.3,304.3 L440.8,301.2 L444.0,302.0 L446.4,301.6 L445.1,300.3 L444.9,302.0 L446.2,301.6 L446.4,301.6 L445.9,300.4 L448.6,297.7 L449.1,297.7 L448.9,298.8 L449.7,299.1 L452.0,299.0 L450.7,298.6 L451.1,297.9 L451.5,295.8 L455.6,297.4 L451.9,296.1 L454.8,296.4 L453.3,296.5 L454.8,296.0 L455.3,295.9 L455.0,296.4 L456.3,295.2 L457.5,294.7 L456.1,294.3 L460.2,293.8 L459.8,293.5 L457.4,291.4 L458.1,291.4 L459.3,291.2 L458.0,288.5 L461.6,288.5 L458.9,288.8 L463.4,290.7 L463.7,290.7 L461.4,288.8 L462.0,287.4 L462.9,288.0 L462.5,287.1 L463.1,286.9 L463.0,284.8 L465.0,286.4 L465.8,285.1 L467.8,285.2 L466.7,283.2 L467.4,285.8 L468.1,283.5 L468.7,283.8 L467.9,282.9 L469.5,282.0 L470.8,282.5 L469.5,280.8 L471.4,281.3 L472.8,281.2 L469.8,278.2 L468.5,277.5 L472.9,279.9 L473.4,278.7 L469.4,276.1 L472.8,277.9 L474.3,277.8 L474.3,275.7 L471.8,273.4 L475.4,275.3 L473.9,274.7 L475.4,273.9 L476.5,274.3 L478.3,273.7 L476.5,272.5 L475.7,271.2 L479.6,274.1 L476.8,270.4 L481.1,271.1 L479.0,269.2 L480.3,269.8 L480.3,270.6 L482.0,269.7 L481.5,270.2 L482.7,268.8 L484.0,270.2 L482.3,266.3 L485.8,268.6 L484.5,266.2 L485.6,268.9 L484.7,265.0 L484.3,266.0 L488.0,265.6 L488.0,266.7 L488.4,265.0 L491.3,267.1 L491.5,267.6 L490.0,265.1 L493.3,266.6 L491.2,262.5 L491.3,263.9 L489.9,261.9 L496.1,264.8 L490.7,260.4 L493.2,261.3 L493.6,259.4 L497.3,263.7 L496.2,261.0 L494.6,259.5 L498.8,262.1 L496.4,261.0 L497.1,260.0 L497.6,258.9 L497.9,259.7 L499.3,259.7 L497.6,256.1 L500.4,257.8 L497.8,256.6 L499.6,258.4 L501.8,256.9 L502.2,257.1 L501.8,254.2 L504.1,258.1 L503.2,255.5 L503.5,252.2 L504.7,255.0 L504.6,254.2 L504.0,252.3 L506.7,252.3 L506.5,254.7 L507.1,251.8 L507.9,252.5 L509.7,254.1 L509.8,253.2 L506.2,250.1 L509.3,249.9 L509.5,249.9 L507.0,248.4 L512.0,250.7 L511.9,249.5 L512.3,248.1 L510.8,248.0 L513.3,248.5 L510.1,245.2 L510.3,243.7 L510.1,244.4 L515.2,245.1 L514.9,245.2 L511.8,242.4 L512.5,243.4 L513.1,241.3 L515.1,240.8 L514.3,239.6 L516.9,241.9 L516.0,240.9 L519.6,241.9 L520.0,242.0 L517.2,238.5 L517.6,239.3 L520.6,239.7 L522.8,240.8 L523.2,240.3 L523.1,239.4 L522.9,238.3 L522.9,237.2 L521.5,236.4 L521.4,237.5 L524.6,239.2 L526.3,237.9 L523.5,234.9 L525.8,235.9 L526.1,234.4 L526.3,234.0 L525.3,233.3 L526.5,235.9 L526.2,233.5 L528.9,231.9 L530.2,232.5 L527.7,231.1 L530.1,233.3 L529.2,232.3 L532.9,234.2 L533.6,232.7 L531.1,232.0 L533.1,230.1 L532.9,230.0 L535.8,231.1 L531.8,228.1 L535.5,230.7 L535.0,230.6 L536.8,227.8 L536.7,228.5 L534.9,225.5 L537.1,228.2 L535.1,225.1 L539.3,228.1 L536.7,224.5 L537.2,225.2 L537.1,224.5 L538.6,226.0 L539.9,223.3 L539.1,223.9 L541.3,226.0 L540.9,223.6 L541.7,222.7 L541.3,222.5 L544.4,222.5 L542.0,220.6 L542.7,221.6 L543.8,220.3 L545.2,220.3 L545.5,220.6 L548.9,221.0 L547.8,220.4 L547.2,218.2 L546.2,219.0 L547.4,218.9 L549.2,219.7 L552.8,220.7 L550.3,217.3 L551.6,220.5 L552.0,217.5 L552.0,217.4 L551.6,215.3 L549.2,214.1 L553.1,216.8 L552.6,215.8 L555.1,216.0 L555.2,213.9 L554.3,212.9 L556.5,214.1 L553.3,210.7 L553.7,211.0 L555.9,211.6 L558.8,212.7 L559.7,212.7 L558.7,210.9 L555.7,209.5 L558.4,208.1 L557.3,208.9 L560.2,210.8 L559.6,208.9 L561.8,210.0 L560.0,206.5 L560.0,207.5 L562.9,207.6 L562.8,205.4 L562.2,207.8 L562.2,206.7 L563.0,207.0 L561.7,203.9 L568.3,207.2 L565.8,202.6 L563.2,202.0 L564.0,201.8 L568.1,203.2 L568.6,203.8 L567.8,205.1 L568.8,201.4 L567.1,200.4 L570.1,202.1 L571.2,201.8 L570.0,202.4 L572.0,201.8 L570.5,202.0 L570.8,201.0 L570.6,197.6 L573.8,198.2 L573.9,198.6 L573.7,200.6 L575.4,199.9 L574.4,200.3 L577.4,198.8 L576.9,199.4 L577.0,197.1 L579.4,199.5 L575.2,195.1 L577.8,197.6 L576.9,196.5 L580.4,196.1 L582.0,195.6 L578.7,194.9 L580.8,196.6 L582.7,197.1 L581.3,193.1 L581.2,192.3 L584.0,192.8 L583.6,192.7 L582.2,192.0 L584.1,192.4 L585.5,191.6 L585.5,194.0 L585.9,192.7 L585.8,190.1 L584.3,189.7 L587.3,189.8 L589.8,192.2 L587.7,187.0 L587.0,186.8 L590.0,187.7 L589.8,187.6 L591.8,188.9 L590.0,189.1 L593.8,189.0 L591.0,185.4 L593.2,188.7 L592.8,187.4 L594.0,187.0 L594.3,186.9 L593.2,184.2 L595.3,186.3 L592.9,182.8 L595.2,184.2 L597.4,183.8 L595.8,183.6 L599.7,184.4 L597.7,182.4 L596.5,181.1 L595.8,180.5 L601.9,183.6 L601.8,182.7 L599.9,181.3 L599.6,179.3 L599.8,179.0 L600.1,178.2 L603.7,179.6 L601.3,177.2 L600.9,177.5 L603.4,177.8 L604.7,178.2 L601.1,176.1 L606.9,178.7 L604.9,177.0 L606.1,178.1 L605.6,176.6 L603.6,174.6 L605.1,175.9 L606.3,175.9 L608.0,175.7 L607.6,172.2 L609.3,173.6 L607.4,170.9 L609.7,172.2 L611.2,172.4 L609.3,172.1 L608.5,170.0 L610.9,170.1 L611.0,168.7 L610.9,168.1 L612.9,170.1 L612.0,166.6 L612.8,168.5 L615.0,169.8 L614.8,169.7 L613.3,167.6 L615.1,165.2 L613.7,166.5 L617.6,168.5 L617.7,167.8 L616.4,167.9 L615.8,166.1 L619.9,168.5 L616.7,163.0 L620.4,166.5 L620.0,165.0 L622.1,166.7 L621.8,166.3 L620.9,164.9 L620.1,163.4 L624.6,165.3 L624.3,164.7 L625.2,165.1 L624.7,163.1 L625.3,160.8 L624.5,162.2 L625.8,160.4 L626.8,162.1 L626.8,161.7 L625.2,160.1 L627.6,158.4 L628.1,158.7 L629.4,157.8 L629.2,158.9 L632.7,159.9 L631.0,160.6 L630.3,158.6 L630.3,157.0 L631.3,159.4 L631.3,157.0 L633.2,157.8 L633.3,156.8 L630.9,154.0 L635.5,156.1 L634.4,157.0 L634.8,153.2 L637.2,157.0 L635.5,153.0 L634.2,153.7 L633.9,151.5 L637.1,151.9 L636.1,150.4 L638.4,152.7 L640.0,153.4 L637.9,149.9 L639.0,152.4 L639.7,150.3 L641.5,150.1 L641.8,151.7 L644.0,151.2 L641.8,149.0 L643.0,148.4 L643.8,151.0 L643.8,148.0 L646.4,151.5 L643.7,147.4 L644.6,148.2 L648.3,147.9 L647.9,149.4 L645.5,147.7 L645.7,147.4 L648.2,145.6 L647.5,145.0 L646.9,145.1 L652.5,147.7 L652.6,147.8 L649.2,146.3 L652.5,145.2 L652.5,146.3 L650.9,145.1 L653.7,144.6 L653.9,142.1 L654.8,142.7 L652.2,141.3 L655.5,143.5 L654.8,143.8 L655.9,139.8 L654.9,141.6 L657.8,142.4 L656.3,140.4 L658.3,140.9 L656.0,139.8 L658.3,141.1 L660.7,141.1 L657.9,140.2 L661.7,140.3 L661.3,140.2 L661.6,139.1 L661.5,138.7 L660.4,135.8 L659.3,136.4 L664.2,139.0 L662.8,136.1 L664.4,135.3 L662.7,134.7 L662.3,134.3 L664.1,133.9 L666.7,134.8 L665.3,135.1 L667.8,133.5 L666.4,132.1 L666.7,133.7 L668.6,133.8 L667.0,132.6 L668.8,134.3 L669.2,132.6 L669.6,132.8 L669.5,133.4 L671.6,131.3 L671.9,132.4 L672.5,133.0 L670.7,130.9 L673.2,131.6 L674.0,128.2 L675.0,131.8 L673.3,127.7 L677.1,131.7 L674.8,127.3 L675.1,127.8 L676.3,127.8 L677.7,128.7 L677.0,129.4 L677.2,128.2 L678.7,126.7 L680.9,126.4 L677.3,125.8 L682.4,127.3 L681.3,127.7 L680.5,125.4 L681.9,128.2 L684.7,126.4 L682.4,122.6 L683.0,125.2 L682.6,123.6 L680.9,121.5 L683.3,122.0 L682.2,121.1 L685.6,125.0 L684.7,120.3 L684.5,120.8 L685.1,120.6 L685.6,120.7 L686.0,118.6 L688.3,121.8 L688.1,121.3 L687.9,120.4 L689.3,120.5 L689.2,117.0 L692.1,120.9 L691.2,119.5 L693.3,119.7 L691.5,118.9 L690.4,116.5 L693.8,119.4 L693.8,117.8 L695.6,119.3 L694.4,118.9 L693.3,116.8 L696.8,117.7 L694.8,115.0 L693.1,113.9 L696.9,114.4 L696.3,112.7 L700.8,116.6 L697.9,112.4 L699.1,116.1 L698.5,114.2 L698.8,114.0 L701.2,114.8 L701.6,114.3 L701.4,112.8 L699.3,109.8 L704.7,112.0 L703.4,111.2 L703.0,109.8 L703.0,109.9 L703.8,112.9 L703.1,110.2 L704.6,110.9 L705.1,109.8 L706.1,107.3 L704.4,107.4 L707.9,110.8 L708.8,109.1 L707.3,106.7 L706.3,105.7 L708.8,105.6 L710.6,106.4 L709.1,106.1 L713.0,108.3 L708.8,104.1 L712.2,105.9 L713.1,105.5 L713.2,105.1 L714.9,106.1 L713.2,102.6 L714.7,103.6 L713.3,103.4 L714.9,102.8 L713.6,101.2 L716.8,102.8 L715.0,101.0 L718.8,104.3 L718.3,100.1 L717.9,102.5 L717.8,102.3 L718.2,103.1 L719.2,100.1 L721.0,102.7 L720.2,101.2 L719.1,100.8 L723.0,100.4 L720.3,97.5 L724.2,100.5 L723.9,100.8 L722.4,99.3 L724.0,96.4 L722.0,97.6 L724.6,95.7 L727.0,97.8 L726.1,98.0 L726.8,96.7 L727.0,94.2 L727.2,95.8 L728.5,95.5 L730.4,96.0 L730.0,96.4 L730.2,95.4 L727.9,92.8 L730.1,95.2 L727.8,91.1 L729.3,91.9 L730.6,94.8 L732.4,91.3 L731.8,91.8 L732.3,94.2 L731.8,89.2 L732.4,90.2 L733.8,91.7 L736.0,91.2 L733.8,90.6 L735.5,90.7 L735.2,90.3 L739.6,92.5 L737.2,92.4 L739.0,89.1 L737.5,89.9 L739.8,88.5 L738.7,88.7 L739.8,88.1 L741.1,88.7 L741.7,90.1 L742.4,90.2 L741.8,86.6 L742.4,85.4 L742.6,86.5 L741.4,85.3 L745.0,88.1 L743.7,86.9 L743.0,86.3 L745.7,85.7 L746.1,82.3 L744.5,82.9 L744.0,83.7 L746.1,81.4 L748.1,85.0 L749.8,85.6 L747.9,82.2 L747.2,83.0 L748.7,84.0 L751.2,84.0 L752.1,81.7 L751.3,82.5 L752.1,82.1 L751.1,80.8 L753.2,82.2 L755.0,82.0 L752.6,78.7 L753.0,80.9 L755.8,81.2 L755.4,78.2 L756.7,80.8 L755.6,79.6 L756.5,76.8 L756.9,76.9 L758.5,78.6 L758.5,77.0 L757.9,77.2 L757.7,75.5 L759.4,78.9 L758.3,75.2 L759.0,73.8 L761.8,77.9 L761.0,74.6 L764.5,78.5 L759.6,73.5 L765.0,77.5 L762.0,74.0 L765.7,76.2 L766.9,76.9 L766.2,76.7 L765.1,75.3 L766.5,76.6 L764.9,73.2 L767.5,75.7 L766.4,72.2 L767.3,72.5 L768.0,71.2 L769.7,75.2 L771.6,75.3 L769.2,72.5 L771.2,71.5 L771.1,74.4 L771.3,74.3 L772.1,71.0 L769.7,70.0 L772.6,69.9 L774.4,71.6 L775.4,71.7 L775.5,69.3 L776.6,70.6 L775.8,72.3 L777.5,72.2 L777.5,72.1 L775.5,70.5 L778.8,70.4 L777.0,66.6 L779.1,71.6 L781.6,70.8 L778.4,69.1 L779.4,68.4 L782.5,70.2 L783.4,70.8 L779.5,65.9 L780.7,68.9 L783.0,69.6 L784.6,69.6 L782.1,66.8 L784.8,69.1 L786.8,68.2 L785.2,65.0 L785.2,63.5 L786.8,66.6 L788.0,66.9 L788.2,66.5 L787.0,63.0 L788.7,65.8 L788.2,62.6 L790.4,64.5 L791.3,64.4 L790.4,63.9 L789.6,60.9 L792.2,64.5 L791.7,62.7 L791.4,59.7 L791.6,60.9 L791.7,59.5 L792.4,60.4 L793.2,60.5 L794.8,58.1 L793.7,57.7 L794.6,62.2 L794.0,59.8 L794.8,58.1 L797.7,61.2 L798.6,60.7 L797.0,61.8 L799.4,59.2 L796.5,56.7 L799.4,58.2 L798.9,57.9 L799.6,56.9 L800.2,56.4 L798.5,55.3 L802.2,58.5 L801.8,57.3 L803.1,54.9 L803.0,53.6 L803.0,55.2 L803.8,53.3 L803.0,54.0 L804.5,56.4 L805.5,51.8 L806.5,53.1 L805.5,51.8 L805.9,52.2 L809.2,54.9 L807.3,52.2 L808.9,52.3 L808.4,54.7 L809.2,52.5 L810.2,51.6 L811.4,54.4 L810.1,53.9 L810.4,50.9 L811.7,48.9 L809.9,51.1 L811.6,49.5 L812.5,50.4 L813.5,49.5 L814.2,52.7 L816.7,52.8 L816.6,51.8 L815.7,49.1 L817.9,51.1 L818.5,50.2 L816.9,46.5 L816.1,47.7 L816.5,46.1 L819.3,48.8 L818.1,45.0 L817.1,45.1 L822.3,48.9 L821.3,48.1 L821.2,46.7 L822.3,47.0 L823.7,47.9 L820.8,45.2 L823.3,47.9 L824.5,47.9 L823.3,45.8 L824.5,45.7 L824.3,44.5 L826.3,43.0 L824.8,45.7 L825.0,42.6 L827.7,44.5 L828.5,43.1 L827.3,43.3 L828.0,45.3 L828.9,42.6 L829.9,43.7 L827.1,39.8 L830.6,41.2 L830.9,39.8 L828.8,40.9 L831.4,43.0 L831.5,40.7 L831.9,42.9 L832.0,41.4 L832.1,40.9 L833.1,41.0 L835.7,42.7 L836.7,42.3 L835.3,38.4 L835.5,41.3 L834.6,39.2 L838.0,37.4 L838.9,40.1 L837.1,40.9 L836.6,37.8 L837.0,37.3 L839.8,37.3 L841.4,37.6 L841.6,37.1 L841.5,37.9 L839.5,38.4 L840.3,33.7 L840.6,35.4 L845.7,39.0 L843.3,38.8 L842.4,36.5 L844.8,37.5 L842.4,33.5 L845.0,36.9 L848.3,37.9 L846.6,35.5 L846.7,36.1 L847.8,33.9 L847.1,35.5 L848.3,36.8 L849.2,33.9 L848.4,34.9 L851.3,34.8 L850.5,34.1 L850.9,32.6 L852.4,32.8 L852.6,31.6 L852.6,31.7 L851.2,31.3 L854.6,33.4 L852.4,30.2 L853.2,34.8 L855.9,35.3 L856.0,29.6 L854.8,30.7 L857.1,32.1 L857.1,33.7 L858.8,33.9 L857.8,30.7 L857.2,31.7 L859.9,34.6 L859.1,30.3 L859.2,33.6 L858.9,30.2 L863.3,33.6 L863.2,31.7 L862.0,29.3 L863.5,31.4 L862.7,32.7 L861.6,29.0 L863.0,29.2 L865.6,31.9 L863.7,28.1 L866.3,26.5 L865.7,30.5 L866.8,31.7 L868.4,30.0 L867.0,27.8" fill="none" stroke="#00ff00" stroke-width="3.1" stroke-linejoin="round" stroke-linecap="round"/>
<line x1="104.5" y1="715.2" x2="896.0" y2="3.0" stroke="#000" stroke-width="2.8" stroke-dasharray="12.3 9.2" stroke-dashoffset="1.3" stroke-linecap="butt"/>
<rect x="104.5" y="3.0" width="791.5" height="712.2" fill="none" stroke="#000" stroke-width="2.9" stroke-linejoin="round"/>
<g stroke="#000" stroke-width="2.9" stroke-linecap="round"><line x1="133.4" y1="715.8000000000001" x2="133.4" y2="728.4"/><line x1="103.9" y1="689.6" x2="91.1" y2="689.6"/><line x1="280.1" y1="715.8000000000001" x2="280.1" y2="728.4"/><line x1="103.9" y1="557.4" x2="91.1" y2="557.4"/><line x1="426.7" y1="715.8000000000001" x2="426.7" y2="728.4"/><line x1="103.9" y1="425.2" x2="91.1" y2="425.2"/><line x1="573.4" y1="715.8000000000001" x2="573.4" y2="728.4"/><line x1="103.9" y1="293.1" x2="91.1" y2="293.1"/><line x1="720.0" y1="715.8000000000001" x2="720.0" y2="728.4"/><line x1="103.9" y1="160.9" x2="91.1" y2="160.9"/><line x1="866.7" y1="715.8000000000001" x2="866.7" y2="728.4"/><line x1="103.9" y1="28.7" x2="91.1" y2="28.7"/></g>
<text class="ax" x="132.5" y="764" text-anchor="middle" textLength="30.8" lengthAdjust="spacingAndGlyphs">0.0</text>
<text class="ax" x="279.2" y="764" text-anchor="middle" textLength="30.8" lengthAdjust="spacingAndGlyphs">0.2</text>
<text class="ax" x="425.8" y="764" text-anchor="middle" textLength="30.8" lengthAdjust="spacingAndGlyphs">0.4</text>
<text class="ax" x="572.5" y="764" text-anchor="middle" textLength="30.8" lengthAdjust="spacingAndGlyphs">0.6</text>
<text class="ax" x="719.1" y="764" text-anchor="middle" textLength="30.8" lengthAdjust="spacingAndGlyphs">0.8</text>
<text class="ax" x="865.8" y="764" text-anchor="middle" textLength="30.8" lengthAdjust="spacingAndGlyphs">1.0</text>
<text class="ax" transform="translate(72.7,689.4) rotate(-90)" text-anchor="middle" textLength="30.8" lengthAdjust="spacingAndGlyphs">0.0</text>
<text class="ax" transform="translate(72.7,557.2) rotate(-90)" text-anchor="middle" textLength="30.8" lengthAdjust="spacingAndGlyphs">0.2</text>
<text class="ax" transform="translate(72.7,425.0) rotate(-90)" text-anchor="middle" textLength="30.8" lengthAdjust="spacingAndGlyphs">0.4</text>
<text class="ax" transform="translate(72.7,292.9) rotate(-90)" text-anchor="middle" textLength="30.8" lengthAdjust="spacingAndGlyphs">0.6</text>
<text class="ax" transform="translate(72.7,160.7) rotate(-90)" text-anchor="middle" textLength="30.8" lengthAdjust="spacingAndGlyphs">0.8</text>
<text class="ax" transform="translate(72.7,28.5) rotate(-90)" text-anchor="middle" textLength="30.8" lengthAdjust="spacingAndGlyphs">1.0</text>
<text class="ax" x="499.9" y="815.5" text-anchor="middle" style="font-size:22.3px">1- Specificity</text>
<text class="ax" transform="translate(18.7,358.5) rotate(-90)" text-anchor="middle" style="font-size:22.8px" textLength="103.4" lengthAdjust="spacing">Sensitivity</text>
<text class="lg" x="692.2" y="447" textLength="29.6" lengthAdjust="spacingAndGlyphs">Sex</text>
<line x1="662.8" y1="467.8" x2="694.8" y2="467.8" stroke="#ff0000" stroke-width="8" stroke-linecap="round"/>
<line x1="662.8" y1="489.1" x2="694.8" y2="489.1" stroke="#00ff00" stroke-width="8" stroke-linecap="round"/>
<text class="lg" x="702.5" y="475" textLength="57.4" lengthAdjust="spacingAndGlyphs">Female</text>
<text class="lg" x="702.5" y="496" textLength="37.3" lengthAdjust="spacingAndGlyphs">Male</text>
</svg>
</body>
</html>
